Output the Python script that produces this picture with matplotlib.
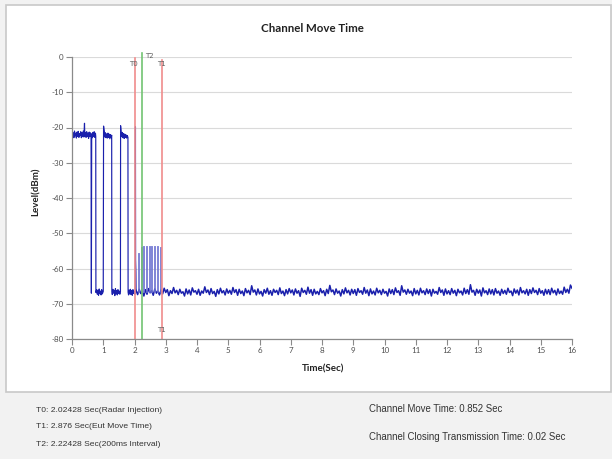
import numpy as np
import matplotlib
matplotlib.use('Agg')
import matplotlib.pyplot as plt
from matplotlib.patches import Rectangle

plt.rcParams['axes.unicode_minus'] = False

# ---- data ----
# early part of the trace (bursts at about -22 dBm, then the drops)
early_t = [0.00, 0.02, 0.04, 0.06, 0.08, 0.10, 0.12, 0.14, 0.16, 0.18,
           0.20, 0.22, 0.24, 0.26, 0.28, 0.30, 0.32, 0.34, 0.36, 0.38,
           0.40, 0.41, 0.43, 0.45, 0.47, 0.49, 0.51, 0.53, 0.55, 0.57,
           0.59, 0.61, 0.62, 0.63, 0.65, 0.67, 0.69, 0.71, 0.73, 0.75,
           0.76, 0.765,
           0.79, 0.81, 0.83, 0.85, 0.87, 0.89, 0.91, 0.93, 0.95, 0.97, 1.00,
           1.01, 1.03, 1.05, 1.07, 1.09, 1.11, 1.13, 1.15, 1.17, 1.19,
           1.21, 1.23, 1.25, 1.27, 1.275,
           1.29, 1.31, 1.33, 1.35, 1.37, 1.39, 1.41, 1.43, 1.45, 1.47,
           1.49, 1.51, 1.53, 1.55,
           1.555, 1.57, 1.59, 1.61, 1.63, 1.65, 1.67, 1.69, 1.71, 1.73,
           1.75, 1.77, 1.79, 1.795,
           1.81, 1.83, 1.85, 1.87, 1.89, 1.91, 1.93, 1.95, 1.97, 1.99,
           2.01, 2.025,
           2.03, 2.035, 2.045, 2.05]
early_db = [-21.2, -22.6, -21.5, -22.9, -21.0, -22.4, -21.6, -23.0, -21.3, -22.5,
            -21.1, -22.8, -21.7, -22.3, -21.2, -22.9, -21.5, -22.6, -21.0, -22.7,
            -18.8, -22.4, -21.4, -22.8, -21.2, -22.5, -21.6, -23.1, -21.3, -22.6,
            -21.5, -22.7, -67.0, -21.8, -22.9, -21.4, -22.6, -21.2, -22.8, -21.6,
            -22.5, -66.8,
            -66.0, -67.3, -66.2, -67.6, -65.8, -67.1, -66.4, -67.5, -66.0, -67.2, -66.5,
            -19.6, -21.0, -22.7, -21.5, -22.9, -21.8, -23.0, -21.6, -22.8, -21.9,
            -23.2, -22.0, -22.9, -22.2, -66.6,
            -67.4, -65.9, -67.0, -66.2, -67.7, -65.7, -67.2, -66.3, -67.5, -66.0,
            -67.1, -66.4, -67.3, -66.6,
            -19.5, -21.2, -22.6, -21.4, -22.9, -21.7, -23.1, -21.9, -22.8, -22.1,
            -23.0, -22.3, -22.8, -66.7,
            -67.5, -66.1, -67.2, -65.9, -67.4, -66.3, -67.6, -66.0, -67.1, -66.5,
            -67.3, -66.4,
            -19.8, -57.5, -61.0, -66.2]

# noise floor after T0, sampled every 0.05 s from 2.05 s to 16 s
floor_start, floor_end = 2.05, 16.0
floor_db = [
    -66.2, -67.4, -65.9, -67.1, -66.5, -67.8, -66.0, -67.3, -65.7, -66.9, -66.3, -67.6, -65.8, -67.0, -66.4, -67.5, -66.1, -67.2, -65.6, -66.8,
    -66.0, -67.7, -66.3, -67.1, -65.4, -66.9, -66.2, -67.4, -65.9, -67.0, -66.6, -67.8, -65.8, -67.2, -66.1, -67.5, -65.5, -66.7, -66.3, -67.3,
    -65.9, -67.6, -66.4, -67.0, -65.2, -66.8, -66.1, -67.4, -65.7, -67.1, -66.5, -67.9, -66.0, -67.2, -65.6, -66.9, -66.3, -67.5, -65.8, -67.0,
    -66.2, -67.3, -65.4, -66.8, -66.0, -67.6, -65.9, -67.1, -66.4, -67.7, -65.7, -66.9, -66.2, -67.4, -64.9, -66.7, -66.1, -67.5, -65.8, -67.2,
    -66.5, -67.8, -66.0, -67.0, -65.6, -67.3, -66.3, -67.6, -65.9, -66.8, -66.2, -67.4, -65.5, -67.1, -66.4, -67.7, -66.0, -67.2, -65.7, -66.9,
    -66.1, -67.5, -65.8, -67.0, -66.3, -67.9, -65.6, -66.8, -66.2, -67.3, -65.3, -67.0, -66.0, -67.6, -65.9, -67.2, -66.5, -67.4, -65.7, -66.9,
    -66.3, -67.7, -65.9, -67.1, -64.8, -66.6, -66.1, -67.4, -65.8, -67.0, -66.4, -67.8, -66.0, -67.2, -65.5, -66.9, -66.2, -67.5, -65.9, -67.1,
    -66.0, -67.6, -65.7, -66.8, -66.3, -67.3, -65.4, -67.0, -66.1, -67.7, -65.8, -67.2, -66.4, -67.5, -65.6, -66.9, -66.2, -67.4, -65.9, -67.0,
    -66.5, -67.8, -65.8, -67.1, -66.0, -67.4, -65.5, -66.8, -66.3, -67.6, -64.9, -66.7, -66.1, -67.3, -65.9, -67.0, -66.4, -67.7, -65.7, -67.2,
    -66.2, -67.5, -65.6, -66.9, -66.3, -67.4, -65.8, -67.1, -66.0, -67.8, -65.9, -67.0, -66.5, -67.3, -65.4, -66.8, -66.1, -67.6, -65.8, -67.2,
    -66.3, -67.4, -65.7, -67.0, -66.2, -67.7, -65.9, -66.9, -66.4, -67.5, -65.6, -67.1, -66.0, -67.3, -64.6, -66.7, -66.2, -67.6, -65.9, -67.0,
    -66.1, -67.8, -65.5, -66.9, -66.3, -67.4, -65.8, -67.2, -66.0, -67.5, -65.7, -67.0, -66.4, -67.6, -65.9, -67.1, -66.2, -67.3, -65.6, -66.8,
    -66.4, -67.7, -65.8, -67.0, -66.1, -67.5, -65.4, -66.9, -66.3, -67.2, -65.9, -67.6, -66.0, -67.1, -65.5, -66.8, -66.2, -67.4, -65.7, -67.0,
    -66.3, -67.6, -65.9, -67.2, -66.0, -67.4, -65.6, -66.9, -66.2, -67.5, -65.8, -67.1, -66.4, -67.3, -65.3, -66.8, -65.9, -67.0, -64.7, -65.6,
]

# short pulses seen between T0 and T1
pulse_t = [2.12, 2.20, 2.28, 2.37, 2.45, 2.54, 2.62, 2.71, 2.80]
pulse_top = [-55.5, -54.0, -53.6, -53.5, -53.6, -53.5, -53.7, -53.6, -53.8]
pulse_base = -66.6
pulse_w = 0.035

# marker lines
markers = {'T0': 2.02428, 'T1': 2.876, 'T2': 2.22428}

info_left = ['T0: 2.02428 Sec(Radar Injection)',
             'T1: 2.876 Sec(Eut Move Time)',
             'T2: 2.22428 Sec(200ms Interval)']
info_right = ['Channel Move Time: 0.852 Sec',
              'Channel Closing Transmission Time: 0.02 Sec']

W, H = 612, 459
narrow = ['Liberation Sans', 'DejaVu Sans']
bold_font = ['Lato', 'DejaVu Sans']

fig = plt.figure(figsize=(W / 100, H / 100), dpi=100)
fig.patch.set_facecolor('#f2f2f2')
fig.patches.append(Rectangle((6 / W, 1 - 392 / H), 605 / W, 387 / H,
                             transform=fig.transFigure, facecolor='white',
                             edgecolor='#c8c8c8', lw=1.2, zorder=-10))

ax = fig.add_axes([72 / W, 1 - 339 / H, 500 / W, 282 / H])
ax.set_zorder(5)
ax.set_facecolor('white')
ax.set_xlim(0, 16)
ax.set_ylim(-80, 0)
ax.set_xticks(range(0, 17))
ax.set_yticks(range(-80, 1, 10))
ax.yaxis.grid(True, color='#dadada', lw=0.8)
ax.set_axisbelow(True)
for s in ['top', 'right']:
    ax.spines[s].set_visible(False)
for s in ['left', 'bottom']:
    ax.spines[s].set_color('#8a8a8a')
    ax.spines[s].set_linewidth(0.9)
ax.tick_params(direction='out', length=4, width=0.8, color='#8a8a8a',
               labelsize=5.8, labelcolor='#505050', pad=2)
for lab in ax.get_xticklabels() + ax.get_yticklabels():
    lab.set_family(bold_font)

trace_color = '#1a20ac'
floor_t = np.linspace(floor_start, floor_end, len(floor_db))
ax.plot(early_t, early_db, color=trace_color, lw=0.85)
ax.plot(floor_t, floor_db, color=trace_color, lw=1.1)
for t, top in zip(pulse_t, pulse_top):
    ax.plot([t, t, t + pulse_w, t + pulse_w], [pulse_base, top, top, pulse_base],
            color='#6a70d0', lw=0.6)

red = '#f08c8c'
green = '#72c472'
ax.plot([markers['T0']] * 2, [-80, -0.3], color=red, lw=1.2, clip_on=False)
ax.plot([markers['T1']] * 2, [-80, -0.8], color=red, lw=1.2, clip_on=False)
ax.plot([markers['T2']] * 2, [-80, 1.0], color=green, lw=1.2, clip_on=False)

lab_kw = dict(fontsize=5, color='#606060', ha='center', va='center', clip_on=False)
ax.text(markers['T0'] - 0.07, -2.0, 'T0', **lab_kw)
ax.text(markers['T2'] + 0.24, 0.4, 'T2', **lab_kw)
ax.text(markers['T1'] - 0.02, -2.0, 'T1', **lab_kw)
ax.text(markers['T1'], -77.4, 'T1', **lab_kw)

fig.text(312 / W, 1 - 28 / H, 'Channel Move Time', ha='center', va='center',
         fontsize=8.3, fontweight='bold', family=bold_font, color='#222222')
fig.text(36 / W, 1 - 192 / H, 'Level(dBm)', ha='center', va='center',
         rotation=90, fontsize=7, fontweight='bold', family=bold_font, color='#222222')
fig.text(323 / W, 1 - 369 / H, 'Time(Sec)', ha='center', va='center',
         fontsize=7, fontweight='bold', family=bold_font, color='#222222')

for txt, y in zip(info_left, [410, 427, 445]):
    fig.text(36 / W, 1 - y / H, txt, ha='left', va='center', fontsize=6.1,
             family=narrow, color='#333333')
for txt, y in zip(info_right, [409, 437]):
    fig.text(369 / W, 1 - y / H, txt, ha='left', va='center', fontsize=6.9,
             family=narrow, color='#333333')

fig.savefig('out.png', dpi=100, facecolor=fig.get_facecolor())
